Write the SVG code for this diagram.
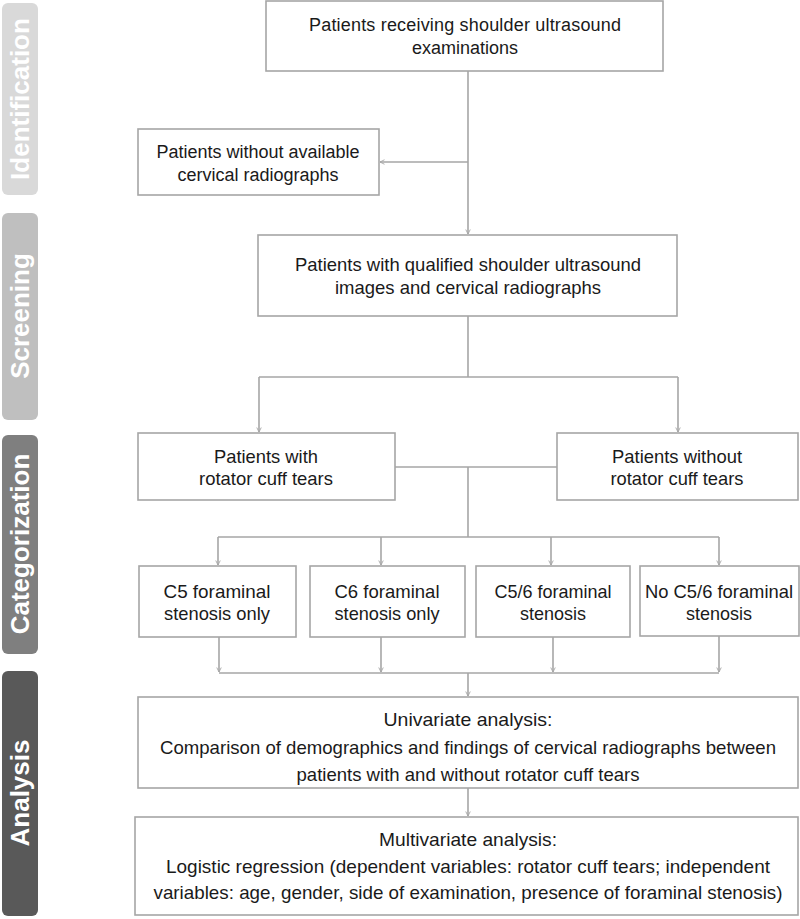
<svg xmlns="http://www.w3.org/2000/svg" width="800" height="919" viewBox="0 0 800 919">
<defs>
<style>
.box{fill:#fff;stroke:#a6a6a6;stroke-width:1.6}
.ln{fill:none;stroke:#a6a6a6;stroke-width:1.6}
.t{font-family:"Liberation Sans",Arial,sans-serif;font-size:18px;fill:#1a1a1a;text-anchor:middle}
.n{font-family:"Liberation Sans",Arial,sans-serif;font-size:19px;fill:#1a1a1a;text-anchor:middle}
.side{font-family:"Liberation Sans",Arial,sans-serif;font-size:26px;font-weight:bold;fill:#fff;text-anchor:middle}
</style>
<marker id="ah" viewBox="0 0 8 8" refX="7" refY="4" markerWidth="6" markerHeight="6" markerUnits="userSpaceOnUse" orient="auto">
<path d="M1 1 L7 4 L1 7" fill="none" stroke="#a6a6a6" stroke-width="1.2"/>
</marker>
</defs>
<rect width="800" height="919" fill="#fff"/>

<g id="side-identification">
<rect x="2" y="3" width="36" height="192" rx="6" fill="#d9d9d9"/>
<text class="side" transform="translate(29,99) rotate(-90)">Identification</text>
</g>
<g id="side-screening">
<rect x="2" y="213" width="36" height="207" rx="6" fill="#bfbfbf"/>
<text class="side" transform="translate(29,316) rotate(-90)">Screening</text>
</g>
<g id="side-categorization">
<rect x="2" y="435" width="36" height="219" rx="6" fill="#7f7f7f"/>
<text class="side" transform="translate(29,544) rotate(-90)">Categorization</text>
</g>
<g id="side-analysis">
<rect x="2" y="671" width="36" height="245" rx="6" fill="#595959"/>
<text class="side" transform="translate(29,793) rotate(-90)">Analysis</text>
</g>

<g id="connectors">
<path class="ln" d="M468 71 V234" marker-end="url(#ah)"/>
<path class="ln" d="M468 162 H380" marker-end="url(#ah)"/>
<path class="ln" d="M468 316 V377"/>
<path class="ln" d="M259 377 H678"/>
<path class="ln" d="M259 377 V432" marker-end="url(#ah)"/>
<path class="ln" d="M678 377 V432" marker-end="url(#ah)"/>
<path class="ln" d="M395 467 H557"/>
<path class="ln" d="M468 467 V537"/>
<path class="ln" d="M218 537 H719"/>
<path class="ln" d="M218 537 V565" marker-end="url(#ah)"/>
<path class="ln" d="M381 537 V565" marker-end="url(#ah)"/>
<path class="ln" d="M551 537 V565" marker-end="url(#ah)"/>
<path class="ln" d="M719 537 V565" marker-end="url(#ah)"/>
<path class="ln" d="M219 637 V672" marker-end="url(#ah)"/>
<path class="ln" d="M381 637 V672" marker-end="url(#ah)"/>
<path class="ln" d="M553 637 V672" marker-end="url(#ah)"/>
<path class="ln" d="M719 636 V672" marker-end="url(#ah)"/>
<path class="ln" d="M219 673 H719"/>
<path class="ln" d="M468 673 V696" marker-end="url(#ah)"/>
<path class="ln" d="M468 788 V816" marker-end="url(#ah)"/>
</g>

<g id="n-start">
<rect class="box" x="266" y="1" width="397" height="70"/>
<text class="t" x="465" y="31" textLength="312" lengthAdjust="spacing">Patients receiving shoulder ultrasound</text>
<text class="t" x="465" y="54">examinations</text>
</g>
<g id="n-excluded">
<rect class="box" x="138" y="129" width="241" height="66"/>
<text class="t" x="258" y="158">Patients without available</text>
<text class="t" x="258" y="181">cervical radiographs</text>
</g>
<g id="n-qualified">
<rect class="box" x="258" y="235" width="419" height="81"/>
<text class="n" x="468" y="271" textLength="346" lengthAdjust="spacingAndGlyphs">Patients with qualified shoulder ultrasound</text>
<text class="n" x="468" y="294" textLength="266" lengthAdjust="spacingAndGlyphs">images and cervical radiographs</text>
</g>
<g id="n-with-tears">
<rect class="box" x="138" y="433" width="257" height="67"/>
<text class="n" x="266" y="463" textLength="104" lengthAdjust="spacingAndGlyphs">Patients with</text>
<text class="n" x="266" y="485" textLength="134" lengthAdjust="spacingAndGlyphs">rotator cuff tears</text>
</g>
<g id="n-without-tears">
<rect class="box" x="557" y="433" width="241" height="67"/>
<text class="n" x="677" y="463" textLength="130" lengthAdjust="spacingAndGlyphs">Patients without</text>
<text class="n" x="677" y="485" textLength="133" lengthAdjust="spacingAndGlyphs">rotator cuff tears</text>
</g>
<g id="n-c5">
<rect class="box" x="139" y="566" width="157" height="71"/>
<text class="n" x="217" y="598" textLength="107" lengthAdjust="spacingAndGlyphs">C5 foraminal</text>
<text class="n" x="217" y="620" textLength="106" lengthAdjust="spacingAndGlyphs">stenosis only</text>
</g>
<g id="n-c6">
<rect class="box" x="310" y="566" width="155" height="71"/>
<text class="n" x="387" y="598" textLength="105" lengthAdjust="spacingAndGlyphs">C6 foraminal</text>
<text class="n" x="387" y="620" textLength="105" lengthAdjust="spacingAndGlyphs">stenosis only</text>
</g>
<g id="n-c56">
<rect class="box" x="476" y="566" width="154" height="71"/>
<text class="n" x="553" y="598" textLength="117" lengthAdjust="spacingAndGlyphs">C5/6 foraminal</text>
<text class="n" x="553" y="620" textLength="66" lengthAdjust="spacingAndGlyphs">stenosis</text>
</g>
<g id="n-none">
<rect class="box" x="640" y="566" width="159" height="70"/>
<text class="n" x="719" y="598" textLength="148" lengthAdjust="spacingAndGlyphs">No C5/6 foraminal</text>
<text class="n" x="719" y="620" textLength="66" lengthAdjust="spacingAndGlyphs">stenosis</text>
</g>
<g id="n-univariate">
<rect class="box" x="138" y="697" width="660" height="91"/>
<text class="n" x="468" y="726" textLength="169" lengthAdjust="spacingAndGlyphs">Univariate analysis:</text>
<text class="n" x="468" y="754" textLength="616" lengthAdjust="spacingAndGlyphs">Comparison of demographics and findings of cervical radiographs between</text>
<text class="n" x="468" y="781" textLength="343" lengthAdjust="spacingAndGlyphs">patients with and without rotator cuff tears</text>
</g>
<g id="n-multivariate">
<rect class="box" x="135" y="817" width="663" height="98"/>
<text class="n" x="468" y="846" textLength="178" lengthAdjust="spacingAndGlyphs">Multivariate analysis:</text>
<text class="n" x="468" y="873" textLength="604" lengthAdjust="spacingAndGlyphs">Logistic regression (dependent variables: rotator cuff tears; independent</text>
<text class="n" x="468" y="899" textLength="629" lengthAdjust="spacingAndGlyphs">variables: age, gender, side of examination, presence of  foraminal stenosis)</text>
</g>
</svg>
